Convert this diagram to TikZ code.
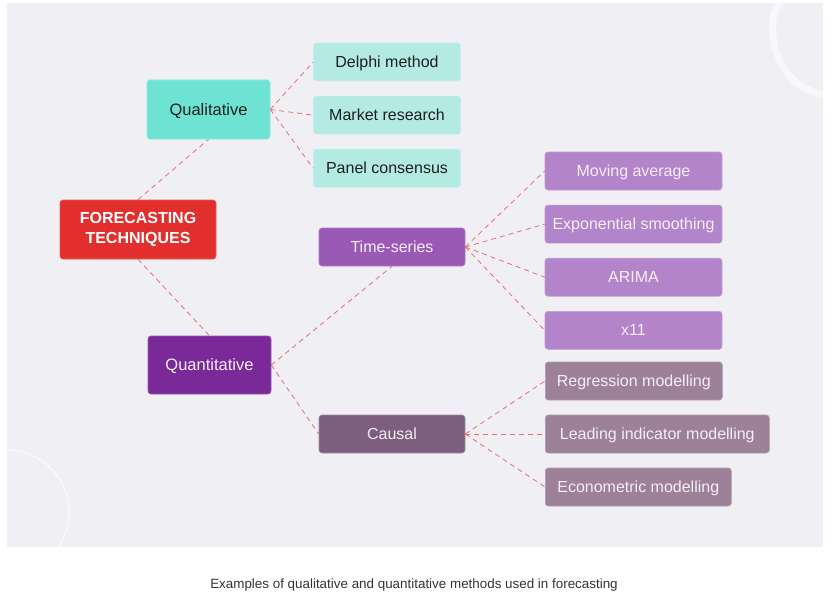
\documentclass[tikz,border=0pt]{standalone}
\usepackage{fontspec}
\setmainfont{Liberation Sans}
\usetikzlibrary{positioning}

\definecolor{bgc}{HTML}{EFEFF4}
\definecolor{rootc}{HTML}{E32E2E}
\definecolor{qualc}{HTML}{6EE3D4}
\definecolor{qleafc}{HTML}{B3EBE3}
\definecolor{quantc}{HTML}{7A2A98}
\definecolor{tsc}{HTML}{9B59B6}
\definecolor{tsleafc}{HTML}{B384C9}
\definecolor{causc}{HTML}{7D5E7E}
\definecolor{causleafc}{HTML}{9C8199}
\definecolor{linkc}{HTML}{EC6E6E}
\definecolor{textc}{HTML}{1E1E1E}
\definecolor{lighttext}{HTML}{F4EEF6}

\begin{document}
\begin{tikzpicture}[x=1pt, y=-1pt, semithick, node distance=14.5pt]
\tikzstyle{box}=[rounded corners=3pt, minimum height=38pt, inner sep=2pt, text height=13.8pt, text depth=2.6pt, font=\fontsize{16}{19}\selectfont]
\tikzstyle{root}=[rounded corners=3pt, align=center, fill=rootc, draw=rootc!80!white, text=white, minimum width=156pt, minimum height=59pt, font=\fontsize{16}{19.5}\selectfont\bfseries]
\tikzstyle{qual}=[box, fill=qualc, draw=qualc!80!white, text=textc, minimum width=123pt, minimum height=59pt, font=\fontsize{16.5}{19}\selectfont]
\tikzstyle{qleaf}=[box, fill=qleafc, draw=qleafc!80!white, text=textc, minimum width=147pt]
\tikzstyle{quant}=[box, fill=quantc, draw=quantc!80!white, text=lighttext, minimum width=123pt, minimum height=58pt, font=\fontsize{16.5}{19}\selectfont]
\tikzstyle{ts}=[box, fill=tsc, draw=tsc!80!white, text=lighttext, minimum width=146pt]
\tikzstyle{tsleaf}=[box, fill=tsleafc, draw=tsleafc!80!white, text=lighttext, minimum width=177pt]
\tikzstyle{caus}=[box, fill=causc, draw=causc!70!white, text=lighttext, minimum width=146pt]
\tikzstyle{causleaf}=[box, fill=causleafc, draw=causleafc!80!white, text=lighttext, anchor=west]
\tikzstyle{link}=[draw=linkc, line width=0.8pt, dash pattern=on 5pt off 4pt]

\useasboundingbox (0,0) rectangle (833,602);
\fill[bgc] (7,3) rectangle (823,547);
% white rings in the corners
\begin{scope}
\clip (7,3) rectangle (823,547);
\draw[white, line width=1.2pt, opacity=0.7] (7,512) circle (62);
\draw[white, line width=7pt, opacity=0.6] (784,-2) .. controls (770,8) and (766,45) .. (788,74) .. controls (798,86) and (812,94) .. (828,95);
\end{scope}

\node[root]     (FT)    at (138,229.5)  {FORECASTING\\TECHNIQUES};
\node[qual]     (QL)    at (208.5,109.5) {Qualitative};
\node[quant]    (QN)    at (209.5,365)  {Quantitative};

\node[qleaf]    (DM)    at (387,62)     {Delphi method};
\node[qleaf]    (MR)    [below=of DM]   {Market research};
\node[qleaf]    (PC)    [below=of MR]   {Panel consensus};

\node[ts]       (TS)    at (392,247)    {Time-series};
\node[caus]     (CA)    at (392,434)    {Causal};

\node[tsleaf]   (MA)    at (633.5,171)  {Moving average};
\node[tsleaf]   (ES)    [below=of MA]   {Exponential smoothing};
\node[tsleaf]   (AR)    [below=of ES]   {ARIMA};
\node[tsleaf]   (XE)    [below=of AR]   {x11};

\node[causleaf, minimum width=177pt] (RM) at (545,381) {Regression modelling};
\node[causleaf, minimum width=224pt] (LI) at (545,434) {Leading indicator modelling};
\node[causleaf, minimum width=186pt] (EM) at (545,487) {Econometric modelling};

\path[link]
(FT.north)  edge (QL.south)
(FT.south)  edge (QN.north)
(QL.east)   edge (DM.west)
            edge (MR.west)
            edge (PC.west)
(QN.east)   edge (TS.south)
            edge (CA.west)
(TS.east)   edge (MA.west)
            edge (ES.west)
            edge (AR.west)
            edge (XE.west)
(CA.east)   edge (RM.west)
            edge (LI.west)
            edge (EM.west);

\node[text=black!80, font=\fontsize{13.4}{16}\selectfont] (cap) at (414,585) {Examples of qualitative and quantitative methods used in forecasting};
\end{tikzpicture}
\end{document}
